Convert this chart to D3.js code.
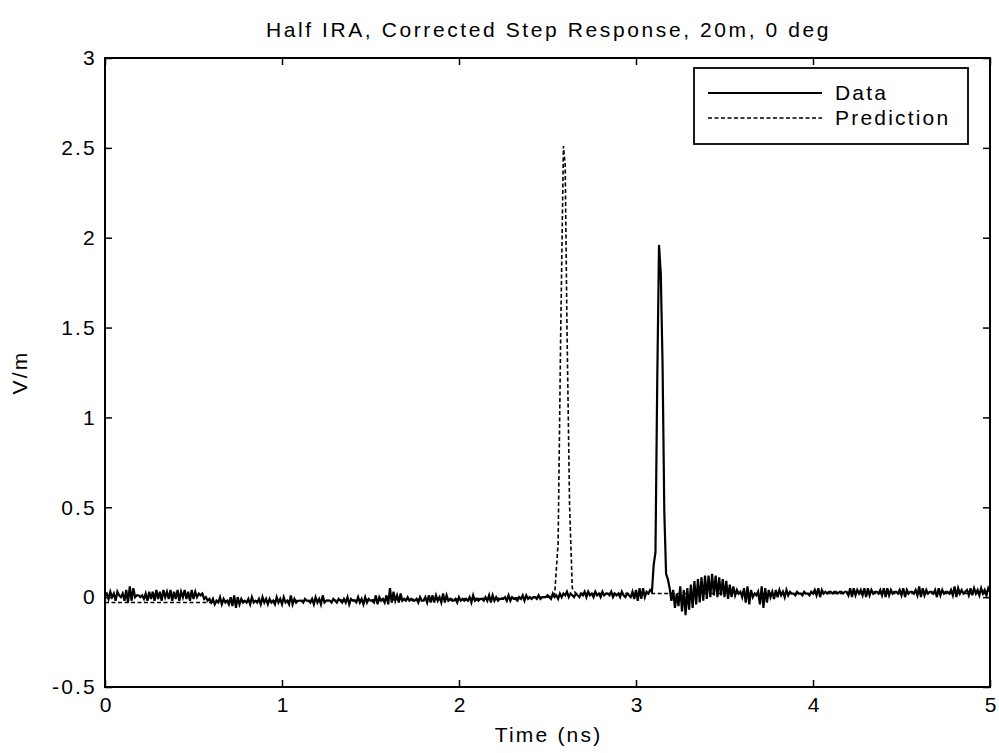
<!DOCTYPE html>
<html><head><meta charset="utf-8">
<script src="https://cdn.jsdelivr.net/npm/d3@7"></script>
<style>body{margin:0;background:#fff}svg{display:block}text{font-family:"Liberation Sans",Arial,sans-serif;fill:#000}</style>
</head><body><svg id="c" width="999" height="753"></svg>
<script>
const title = "Half IRA, Corrected Step Response, 20m, 0 deg";
const xLabel = "Time (ns)";
const yLabel = "V/m";
const xTicks = [0,1,2,3,4,5];
const yTicks = [-0.5,0,0.5,1,1.5,2,2.5,3];
const yTickLabels = ["-0.5","0","0.5","1","1.5","2","2.5","3"];
const seriesNames = ["Data","Prediction"];
// Data: sampled every 0.01 ns from 0 to 5 ns
const dataStart = 0, dataStep = 0.01;
const dataValues = [
.01,.02,-.01,.03,.0,.02,-.02,.03,.01,.0,
.02,-.02,.04,-.03,.06,-.02,.05,.0,.01,.01,
.0,.01,-.01,.02,-.02,.03,-.01,.03,-.02,.04,
-.01,.03,-.02,.04,.0,.03,-.01,.04,-.02,.03,
-.01,.04,-.02,.03,.0,.04,-.01,.03,-.02,.04,
-.01,.03,.0,.02,.01,.02,-.01,.0,-.02,-.01,
-.03,-.01,-.04,-.02,-.03,.0,-.04,-.01,-.03,-.02,
-.04,.0,-.05,.01,-.06,.0,-.04,-.01,-.03,-.02,
-.03,-.01,-.04,.0,-.03,-.02,-.03,-.01,-.04,.0,
-.03,-.01,-.04,-.01,-.03,-.02,-.04,.0,-.03,-.01,
-.04,.0,-.03,-.02,-.04,.01,-.04,-.01,-.03,-.02,
-.02,-.02,-.03,-.01,-.02,-.02,-.03,-.01,-.04,.0,
-.03,-.01,-.04,.01,-.03,-.02,-.02,-.02,-.03,-.01,
-.02,-.03,-.01,-.02,-.03,-.01,-.03,.0,-.04,-.01,
-.02,-.02,-.03,.0,-.03,-.01,-.04,.0,-.03,-.01,
-.02,-.02,-.03,.01,-.04,.0,-.02,-.01,-.03,.01,
-.04,.05,-.03,.03,-.02,.01,-.03,.02,-.02,-.01,
-.02,.0,-.02,-.01,-.02,-.02,-.01,-.03,.0,-.02,
-.02,.0,-.03,.01,-.03,.01,-.03,.01,-.02,.0,
-.03,.02,-.03,.01,-.02,-.01,-.02,-.02,-.01,-.03,
.0,-.02,-.01,-.02,-.01,-.02,.0,-.03,.01,-.02,
-.01,-.02,-.01,-.01,-.02,.0,-.02,.01,-.03,.01,
-.02,.0,-.02,-.01,-.01,-.01,.0,-.02,.01,-.02,
.0,-.01,-.01,-.02,.0,-.01,.01,-.02,.01,-.01,
.0,-.01,.0,.0,-.01,.01,-.01,.0,.0,.0,
.01,.0,-.01,.02,.0,.01,-.01,.02,.0,.02,
.01,.03,.0,.02,.01,.0,.02,.01,.0,.02,
.01,.03,.0,.03,.01,.02,.0,.03,.01,.02,
.0,.03,.01,.02,.02,.01,.03,.0,.02,.01,
.02,.0,.03,.01,.0,.02,.01,.0,.03,-.01,
.04,-.02,.05,-.01,.05,.0,.03,.02,.04,.03,
.18,.25,1.2,1.96,1.8,1.3,.47,.13,.1,.05,
-.02,.04,-.06,.02,-.05,.06,-.08,.04,-.1,.05,
-.07,.07,-.06,.09,-.04,.1,-.03,.11,-.02,.12,
-.01,.12,.0,.13,.01,.12,.0,.11,.01,.1,
.0,.09,-.01,.07,.0,.06,.01,.04,.02,.03,
.0,.05,-.03,.06,-.04,.04,.0,.02,.01,.03,
-.04,.06,-.06,.05,-.03,.04,.0,.03,-.01,.04,
.0,.04,.01,.03,.0,.04,.01,.03,.02,.02,
.01,.03,.02,.02,.01,.03,.02,.02,.01,.03,
.02,.04,.01,.05,.0,.04,.02,.03,.02,.03,
.03,.02,.03,.03,.02,.03,.03,.02,.03,.03,
.01,.05,.0,.05,.01,.04,.02,.04,.01,.05,
.0,.05,.01,.04,.02,.03,.03,.02,.04,.01,
.05,.0,.05,.01,.04,.02,.03,.03,.02,.04,
.01,.05,.0,.04,.02,.03,.03,.02,.04,.01,
.06,.0,.05,.01,.04,.02,.03,.03,.02,.04,
.0,.05,.01,.04,.02,.03,.03,.02,.04,.01,
.06,.0,.05,.02,.04,.02,.03,.04,.01,.05,
.01,.05,.02,.04,.01,.05,.02,.04,.01,.05,.03
];
// Prediction: knots (time ns, V/m)
const predTimes  = [0, 0.6, 0.65, 1.0, 2.0, 2.5, 2.54, 2.56, 2.575, 2.59, 2.6, 2.61, 2.625, 2.64, 2.66, 3.0, 5.0];
const predValues = [-0.03, -0.03, -0.02, -0.02, -0.01, 0.0, 0.01, 0.3, 1.5, 2.51, 2.4, 1.5, 0.5, 0.05, 0.02, 0.02, 0.02];

const svg = d3.select("#c");
const L = 105, R = 990, T = 58, B = 687;
const x = d3.scaleLinear().domain([0,5]).range([L,R]);
const y = d3.scaleLinear().domain([-0.5,3]).range([B,T]);

const dataPts = dataValues.map((v,i)=>[dataStart + i*dataStep, v]);
const predPts = predTimes.map((t,i)=>[t, predValues[i]]);
const line = d3.line().x(d=>x(d[0])).y(d=>y(d[1]));

const g = svg.append("g");
g.append("path").datum(predPts).attr("d",line).attr("fill","none").attr("stroke","#000").attr("stroke-width",1.6).attr("stroke-dasharray","4,2.5");
g.append("path").datum(dataPts).attr("d",line).attr("fill","none").attr("stroke","#000").attr("stroke-width",2.2);

// frame
svg.append("rect").attr("x",L).attr("y",T).attr("width",R-L).attr("height",B-T).attr("fill","none").attr("stroke","#000").attr("stroke-width",2);

// axes with inward ticks
const fs = "21px", ls = "2.2px";
const xb = svg.append("g").attr("transform",`translate(0,${B})`).call(d3.axisBottom(x).tickValues(xTicks).tickSizeInner(-7).tickSizeOuter(0).tickPadding(10).tickFormat(d3.format("d")));
const xt = svg.append("g").attr("transform",`translate(0,${T})`).call(d3.axisTop(x).tickValues(xTicks).tickSizeInner(-7).tickSizeOuter(0).tickFormat(""));
const yl = svg.append("g").attr("transform",`translate(${L},0)`).call(d3.axisLeft(y).tickValues(yTicks).tickSizeInner(-7).tickSizeOuter(0).tickPadding(8).tickFormat((d,i)=>yTickLabels[i]));
const yr = svg.append("g").attr("transform",`translate(${R},0)`).call(d3.axisRight(y).tickValues(yTicks).tickSizeInner(-7).tickSizeOuter(0).tickFormat(""));
[xb,xt,yl,yr].forEach(a=>{a.select(".domain").remove();a.selectAll("line").attr("stroke","#000").attr("stroke-width",1.5);a.selectAll("text").style("font-size",fs).style("letter-spacing",ls).attr("font-family",null);});
xb.selectAll("text").attr("dx","1.1px");

svg.append("text").attr("x",(L+R)/2+1).attr("y",37).attr("text-anchor","middle").style("font-size","21px").style("letter-spacing","2.6px").text(title);
svg.append("text").attr("x",(L+R)/2+1).attr("y",742).attr("text-anchor","middle").style("font-size","21px").style("letter-spacing","2.2px").text(xLabel);
svg.append("text").attr("transform",`translate(27,${(T+B)/2}) rotate(-90)`).attr("text-anchor","middle").style("font-size","21px").style("letter-spacing","2.2px").text(yLabel);

// legend
const lg = svg.append("g");
lg.append("rect").attr("x",694).attr("y",68).attr("width",274).attr("height",76).attr("fill","#fff").attr("stroke","#000").attr("stroke-width",1.8);
const rows = [{n:seriesNames[0],dash:null,yy:93},{n:seriesNames[1],dash:"4,2.5",yy:118}];
rows.forEach(r=>{
  lg.append("line").attr("x1",708).attr("x2",822).attr("y1",r.yy).attr("y2",r.yy).attr("stroke","#000").attr("stroke-width",r.dash?1.6:2).attr("stroke-dasharray",r.dash);
  lg.append("text").attr("x",835).attr("y",r.yy+7).style("font-size","21px").style("letter-spacing","2.2px").text(r.n);
});
</script></body></html>
